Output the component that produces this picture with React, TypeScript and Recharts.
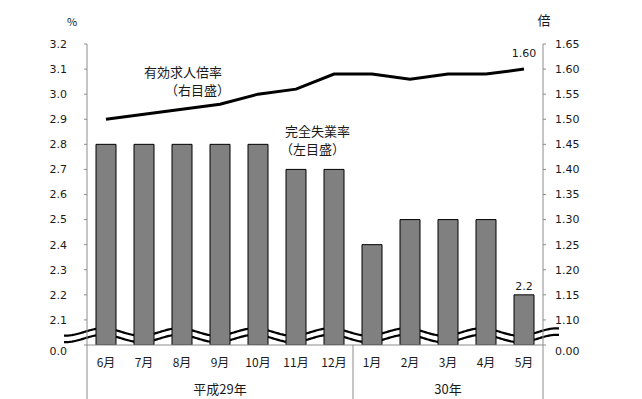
import {
  ComposedChart,
  Bar,
  Line,
  XAxis,
  YAxis,
  Customized,
} from "recharts";

// 月ラベル
const months = ["6月", "7月", "8月", "9月", "10月", "11月", "12月", "1月", "2月", "3月", "4月", "5月"];
// 完全失業率（%、左目盛）
const unemployment = [2.8, 2.8, 2.8, 2.8, 2.8, 2.7, 2.7, 2.4, 2.5, 2.5, 2.5, 2.2];
// 有効求人倍率（倍、右目盛）
const jobRatio = [1.5, 1.51, 1.52, 1.53, 1.55, 1.56, 1.59, 1.59, 1.58, 1.59, 1.59, 1.6];
// 年の区切り
const yearLabels = ["平成29年", "30年"];
const yearSpans = [7, 5];
// 目盛（最下段は省略線の下の 0）
const leftTicks = [2.0, 2.1, 2.2, 2.3, 2.4, 2.5, 2.6, 2.7, 2.8, 2.9, 3.0, 3.1, 3.2];
const rightTicks = [1.05, 1.1, 1.15, 1.2, 1.25, 1.3, 1.35, 1.4, 1.45, 1.5, 1.55, 1.6, 1.65];

const data = months.map((m, i) => ({ month: m, rate: unemployment[i], ratio: jobRatio[i] }));

const W = 642;
const H = 399;
const LEFT = 87;
const RIGHT_W = 99;
const TOP = 44;
const XAXIS_H = 54;
const PLOT_BOTTOM = H - XAXIS_H;
const BAND = (W - LEFT - RIGHT_W) / months.length;

const AXIS = "#8c8c8c";
const TEXT = "#1a1a1a";
const JP = "'Noto Sans CJK JP', sans-serif";
const NUM = "'DejaVu Sans', sans-serif";

// 年の中央にくる月のindex
const groupMid: Record<number, string> = {};
const groupEnds: number[] = [];
{
  let start = 0;
  yearSpans.forEach((span, g) => {
    groupMid[start + Math.floor(span / 2)] = yearLabels[g];
    groupEnds.push(start + span - 1);
    start += span;
  });
}

function MonthTick(props: any) {
  const { x, payload, index } = props;
  return (
    <g>
      <text x={x} y={PLOT_BOTTOM + 22} textAnchor="middle" fontSize={12} fontFamily={JP} fill={TEXT}>
        {payload.value}
      </text>
      {index === 0 && (
        <line x1={x - BAND / 2} x2={x - BAND / 2} y1={PLOT_BOTTOM} y2={H} stroke={AXIS} />
      )}
      {groupEnds.includes(index) && (
        <line x1={x + BAND / 2} x2={x + BAND / 2} y1={PLOT_BOTTOM} y2={H} stroke={AXIS} />
      )}
      {groupMid[index] && (
        <text x={x} y={PLOT_BOTTOM + 49} textAnchor="middle" fontSize={13} fontFamily={JP} fill={TEXT}>
          {groupMid[index]}
        </text>
      )}
    </g>
  );
}

// 軸の数値ラベル（最下段の 0 は少し下げる）
const numTick = (ticks: number[], digits: number, anchor: string) => (props: any) => {
  const { x, y, payload } = props;
  const isZero = payload.value === ticks[0];
  return (
    <text x={x} y={y + (isZero ? 6 : 0)} dy="0.355em" textAnchor={anchor} fontSize={11} fontFamily={NUM} fill={TEXT}>
      {isZero ? (0).toFixed(digits) : Number(payload.value).toFixed(digits)}
    </text>
  );
};

function wavePoints(x0: number, x1: number, cy: number) {
  const amp = 3.7;
  const period = 75.7;
  const peak = 103;
  const pts: [number, number][] = [];
  for (let x = x0; x <= x1; x += 1) {
    pts.push([x, cy - amp * Math.cos(((x - peak) / period) * 2 * Math.PI)]);
  }
  return pts;
}

const toPath = (pts: [number, number][]) =>
  pts.map((p, i) => (i === 0 ? "M" : "L") + p[0].toFixed(1) + "," + p[1].toFixed(2)).join("");

function BreakMark() {
  const x0 = 64;
  const x1 = 559;
  const top = wavePoints(x0, x1, 332);
  const bottom = wavePoints(x0, x1, 338.5);
  const fill = toPath([...top, ...bottom.slice().reverse()]) + "Z";
  return (
    <g>
      <path d={fill} fill="#fff" stroke="none" />
      <path d={toPath(top)} fill="none" stroke="#000" strokeWidth={2.2} />
      <path d={toPath(bottom)} fill="none" stroke="#000" strokeWidth={2.2} />
      <text x={72} y={26} textAnchor="middle" fontSize={11} fontFamily={JP} fill={TEXT}>%</text>
      <text x={544} y={25} textAnchor="middle" fontSize={13} fontFamily={JP} fill={TEXT}>倍</text>
      <text x={144} y={77} fontSize={13} fontFamily={JP} fill={TEXT}>有効求人倍率</text>
      <text x={165} y={95} fontSize={13} fontFamily={JP} fill={TEXT}>（右目盛）</text>
      <text x={285} y={136} fontSize={13} fontFamily={JP} fill={TEXT}>完全失業率</text>
      <text x={280} y={154} fontSize={13} fontFamily={JP} fill={TEXT}>（左目盛）</text>
    </g>
  );
}

const lastLabel = (fmt: (v: number) => string, dy: number) => (p: any) => {
  if (p.index !== months.length - 1) return null;
  return (
    <text x={p.x + (p.width || 0) / 2} y={p.y + dy} textAnchor="middle" fontSize={11} fontFamily={NUM} fill={TEXT}>
      {fmt(p.value)}
    </text>
  );
};

export default function App() {
  return (
    <div style={{ position: "absolute", left: 0, top: 0, background: "#fff" }}>
      <ComposedChart width={W} height={H} data={data} margin={{ top: TOP, right: 0, bottom: 0, left: 0 }}>
        <XAxis
          dataKey="month"
          height={XAXIS_H}
          tick={<MonthTick />}
          tickLine={false}
          axisLine={{ stroke: AXIS }}
          interval={0}
        />
        <YAxis
          yAxisId="left"
          width={LEFT}
          domain={[2.0, 3.2]}
          ticks={leftTicks}
          interval={0}
          tick={numTick(leftTicks, 1, "end")}
          tickSize={3}
          tickMargin={17}
          tickLine={{ stroke: AXIS }}
          axisLine={{ stroke: AXIS }}
          allowDataOverflow
        />
        <YAxis
          yAxisId="right"
          orientation="right"
          width={RIGHT_W}
          domain={[1.05, 1.65]}
          ticks={rightTicks}
          interval={0}
          tick={numTick(rightTicks, 2, "start")}
          tickSize={3}
          tickMargin={9}
          tickLine={{ stroke: AXIS }}
          axisLine={{ stroke: AXIS }}
          allowDataOverflow
        />
        <Bar
          yAxisId="left"
          dataKey="rate"
          barSize={20}
          fill="#808080"
          stroke="#000"
          strokeWidth={1}
          isAnimationActive={false}
          label={lastLabel((v) => v.toFixed(1), -5)}
        />
        <Line
          yAxisId="right"
          dataKey="ratio"
          type="linear"
          stroke="#000"
          strokeWidth={3}
          dot={false}
          isAnimationActive={false}
          label={lastLabel((v) => v.toFixed(2), -12)}
        />
        <Customized component={BreakMark} />
      </ComposedChart>
    </div>
  );
}
